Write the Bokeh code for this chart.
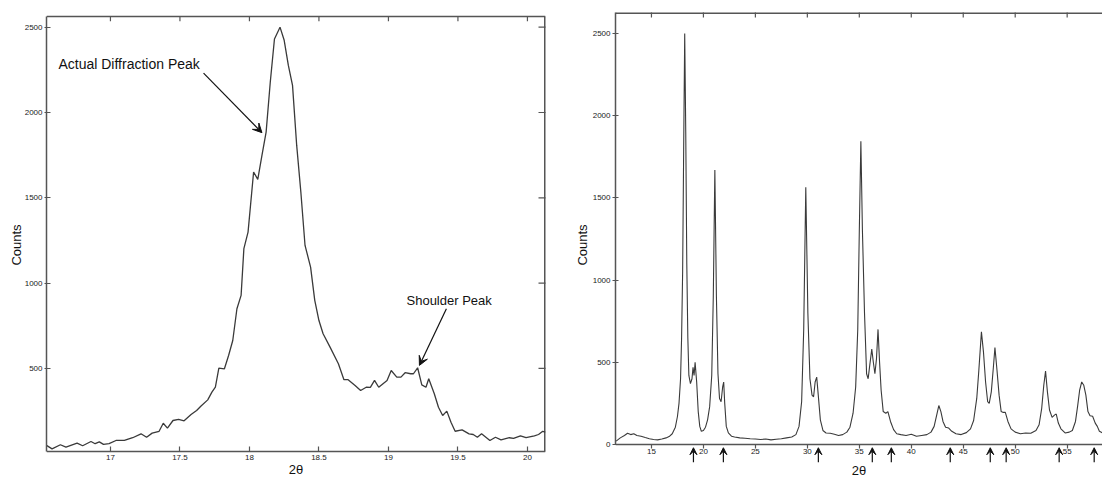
import math
from bokeh.plotting import figure
from bokeh.models import (Range1d, Arrow, VeeHead, Label, FixedTicker,
                          PrintfTickFormatter, ColumnDataSource)
from bokeh.layouts import row
from bokeh.embed import file_html
from bokeh.resources import INLINE

# ---------------- data: left panel (zoom on the 18.2 deg peak) ----------------
left_two_theta = [16.54, 16.58, 16.64, 16.68, 16.76, 16.80, 16.86, 16.89, 16.92, 16.95, 16.99,
                  17.04, 17.10, 17.16, 17.22, 17.26, 17.30, 17.35, 17.38, 17.41, 17.45, 17.49,
                  17.53, 17.58, 17.62, 17.65, 17.70, 17.73, 17.755, 17.78, 17.82, 17.85, 17.88,
                  17.91, 17.94, 17.96, 17.99, 18.03, 18.06, 18.09, 18.12, 18.15, 18.18, 18.22,
                  18.25, 18.28, 18.31, 18.34, 18.37, 18.40, 18.44, 18.47, 18.50, 18.53, 18.58,
                  18.64, 18.68, 18.71, 18.76, 18.80, 18.84, 18.87, 18.90, 18.93, 18.99, 19.02,
                  19.06, 19.09, 19.12, 19.16, 19.18, 19.21, 19.24, 19.27, 19.29, 19.33, 19.36,
                  19.39, 19.42, 19.45, 19.48, 19.53, 19.58, 19.61, 19.64, 19.67, 19.73, 19.77,
                  19.81, 19.87, 19.90, 19.95, 19.99, 20.05, 20.08, 20.11, 20.13]
left_counts = [49, 29, 53, 39, 62, 47, 72, 59, 70, 55, 59,
               78, 78, 94, 117, 97, 121, 132, 179, 150, 195, 201,
               193, 230, 254, 279, 316, 361, 390, 502, 498, 576, 664,
               850, 928, 1202, 1299, 1651, 1608, 1749, 1885, 2179, 2431, 2500,
               2423, 2276, 2159, 1807, 1533, 1221, 1094, 899, 781, 703, 625,
               528, 434, 434, 400, 371, 390, 389, 430, 390, 430, 488,
               449, 449, 475, 469, 469, 504, 404, 390, 440, 352, 273,
               224, 250, 185, 132, 140, 117, 113, 97, 117, 78, 97,
               82, 94, 90, 105, 94, 105, 113, 132, 127]

left_notes = ["Actual Diffraction Peak", "Shoulder Peak"]
left_note_x = [16.626, 19.13]
left_note_y = [2285, 899]
left_arrow_x0 = [17.67, 19.417]
left_arrow_y0 = [2231, 850]
left_arrow_x1 = [18.09, 19.223]
left_arrow_y1 = [1882, 518]

left_x_ticks = [17, 17.5, 18, 18.5, 19, 19.5, 20]
left_y_ticks = [500, 1000, 1500, 2000, 2500]

# ---------------- data: right panel (full pattern) ----------------
right_two_theta = [11.6, 12.0, 12.4, 12.7, 13.0, 13.3, 13.6, 14.0, 14.4, 14.8, 15.2, 15.6, 16.0,
                   16.4, 16.7, 17.0, 17.3, 17.5, 17.65, 17.8, 17.9, 18.0, 18.1, 18.2, 18.3, 18.4,
                   18.5, 18.6, 18.75, 18.9, 19.0, 19.1, 19.2, 19.35, 19.5, 19.65, 19.8, 20.0,
                   20.2, 20.4, 20.6, 20.8, 20.95, 21.1, 21.25, 21.4, 21.55, 21.7, 21.85, 21.95,
                   22.05, 22.2, 22.4, 22.7, 23.0, 23.5, 24.0, 24.5, 25.0, 25.5, 26.0, 26.5,
                   27.0, 27.5, 28.0, 28.5, 28.9, 29.2, 29.45, 29.65, 29.85, 30.05, 30.25, 30.45,
                   30.6, 30.75, 30.9, 31.05, 31.25, 31.5, 31.8, 32.2, 32.6, 33.0, 33.4, 33.8,
                   34.1, 34.4, 34.65, 34.85, 35.0, 35.15, 35.3, 35.5, 35.7, 35.85, 36.0, 36.2,
                   36.35, 36.5, 36.65, 36.8, 36.95, 37.1, 37.3, 37.55, 37.75, 38.0, 38.3, 38.6,
                   39.0, 39.5, 40.0, 40.5, 41.0, 41.5, 41.9, 42.2, 42.45, 42.65, 42.85, 43.05,
                   43.3, 43.6, 43.9, 44.3, 44.8, 45.3, 45.7, 46.0, 46.3, 46.5, 46.75, 46.95,
                   47.15, 47.35, 47.5, 47.7, 47.9, 48.05, 48.25, 48.45, 48.65, 48.85, 49.05,
                   49.3, 49.6, 50.0, 50.5, 51.0, 51.5, 52.0, 52.3, 52.55, 52.75, 52.92, 53.1,
                   53.3, 53.55, 53.8, 53.95, 54.15, 54.4, 54.8, 55.2, 55.5, 55.8, 56.0, 56.2,
                   56.4, 56.6, 56.8, 57.0, 57.2, 57.45, 57.7, 57.9, 58.1, 58.4]
right_counts = [20, 40, 55, 68, 60, 65, 55, 50, 42, 35, 30, 28, 33,
                40, 48, 65, 105, 170, 250, 400, 650, 1050, 1800, 2500, 1900, 1100,
                650, 420, 370, 400, 470, 420, 500, 380, 200, 110, 80, 85,
                105, 150, 230, 420, 900, 1670, 900, 430, 280, 260, 350, 380,
                250, 110, 70, 50, 45, 40, 38, 35, 33, 30, 33, 28,
                32, 35, 40, 45, 60, 110, 260, 700, 1565, 800, 400, 300,
                290, 380, 410, 300, 150, 85, 70, 68, 62, 55, 60, 75,
                105, 190, 350, 700, 1300, 1845, 1300, 800, 430, 400, 480, 580,
                500, 430, 520, 700, 500, 330, 200, 190, 200, 140, 90, 65,
                60, 55, 62, 50, 55, 60, 75, 110, 180, 237, 200, 140,
                105, 100, 80, 65, 60, 72, 95, 146, 280, 450, 685, 560,
                380, 260, 250, 320, 470, 590, 450, 300, 200, 195, 195,
                140, 95, 75, 65, 70, 68, 85, 120, 220, 360, 446, 320,
                210, 165, 180, 185, 130, 95, 70, 75, 85, 140, 230, 330,
                380, 360, 300, 200, 175, 172, 130, 110, 80, 70]

marker_two_theta = [19.04, 21.92, 31.06, 36.25, 38.08, 43.75, 47.6, 49.13, 54.23, 57.6]

right_x_ticks = [15, 20, 25, 30, 35, 40, 45, 50, 55]
right_y_ticks = [0, 500, 1000, 1500, 2000, 2500]

FONT = "Liberation Sans"
AXC = "#555555"
LINEC = "#3a3a3a"


def style_axis(ax, tick_in, tick_out, standoff=2):
    ax.axis_line_color = AXC
    ax.axis_line_width = 1.5
    ax.major_tick_line_color = AXC
    ax.major_tick_line_width = 1.2
    ax.major_tick_in = tick_in
    ax.major_tick_out = tick_out
    ax.minor_tick_line_color = None
    ax.major_label_text_font = FONT
    ax.major_label_text_font_size = "8px"
    ax.major_label_text_color = "#222222"
    ax.major_label_standoff = standoff
    ax.axis_label_text_font = FONT
    ax.axis_label_text_font_size = "13px"
    ax.axis_label_text_font_style = "normal"
    ax.axis_label_text_color = "#111111"


# ---------------- left figure ----------------
# the frame runs to the bottom of the page; the x axis sits at the data floor
LEFT_FLOOR, LEFT_TOP = 13, 2563
x1r = Range1d(16.54, 20.13)
y1r = Range1d(-139, 2586)
left_tick_len = 29  # ~5 px in data units
p1 = figure(width=560, height=477, x_range=x1r, y_range=y1r,
            output_backend="svg", toolbar_location=None,
            min_border_left=46, min_border_right=15, min_border_top=12, min_border_bottom=0)
p1.grid.visible = False
p1.outline_line_color = None
p1.background_fill_color = "white"
p1.border_fill_color = "white"

p1.xaxis.ticker = FixedTicker(ticks=left_x_ticks)
p1.xaxis.formatter = PrintfTickFormatter(format="%g")
p1.xaxis.axis_label = "2θ"
p1.xaxis.axis_label_standoff = -1
p1.xaxis.fixed_location = LEFT_FLOOR
style_axis(p1.xaxis[0], 5, 0, standoff=3)

p1.yaxis.ticker = FixedTicker(ticks=left_y_ticks)
p1.yaxis.axis_label = "Counts"
p1.yaxis.axis_label_standoff = -2
p1.yaxis.bounds = (LEFT_FLOOR, LEFT_TOP)
style_axis(p1.yaxis[0], 4, 2, standoff=2)

# top and right frame edges with inward ticks
p1.line([x1r.start, x1r.end], [LEFT_TOP, LEFT_TOP], line_color=AXC, line_width=1.5)
p1.line([x1r.end, x1r.end], [LEFT_FLOOR, LEFT_TOP], line_color=AXC, line_width=3)
p1.segment(x0=left_x_ticks, y0=[LEFT_TOP] * len(left_x_ticks),
           x1=left_x_ticks, y1=[LEFT_TOP - left_tick_len] * len(left_x_ticks),
           line_color=AXC, line_width=1.2)
p1.scatter([x1r.end] * len(left_y_ticks), left_y_ticks, marker="dash", size=14,
           line_color=AXC, line_width=1.2)

p1.line(left_two_theta, left_counts, line_color=LINEC, line_width=1.3)

for txt, tx, ty in zip(left_notes, left_note_x, left_note_y):
    p1.add_layout(Label(x=tx, y=ty, text=txt, text_font=FONT,
                        text_font_size="14px" if txt.startswith("Actual") else "13px",
                        text_baseline="middle", text_align="left", text_color="#111111"))
for xa, ya, xb, yb in zip(left_arrow_x0, left_arrow_y0, left_arrow_x1, left_arrow_y1):
    p1.add_layout(Arrow(x_start=xa, y_start=ya, x_end=xb, y_end=yb, line_color="#111111",
                        line_width=1.2,
                        end=VeeHead(size=9, fill_color="#111111", line_color="#111111")))

# ---------------- right figure ----------------
RIGHT_TOP = 2628
x2r = Range1d(11.54, 58.4)
y2r = Range1d(-201, RIGHT_TOP)
p2 = figure(width=542, height=477, x_range=x2r, y_range=y2r,
            output_backend="svg", toolbar_location=None,
            min_border_left=55, min_border_right=0, min_border_top=12, min_border_bottom=0)
p2.grid.visible = False
p2.outline_line_color = None
p2.background_fill_color = "white"
p2.border_fill_color = "white"

p2.xaxis.ticker = FixedTicker(ticks=right_x_ticks)
p2.xaxis.axis_label = "2θ"
p2.xaxis.axis_label_standoff = 5
p2.xaxis.fixed_location = 0
style_axis(p2.xaxis[0], 0, 4, standoff=1)

p2.yaxis.ticker = FixedTicker(ticks=right_y_ticks)
p2.yaxis.axis_label = "Counts"
p2.yaxis.axis_label_standoff = 0
p2.yaxis.bounds = (0, RIGHT_TOP)
style_axis(p2.yaxis[0], 3, 3, standoff=2)

# top frame edge with inward ticks (half of each mark is clipped by the frame)
p2.line([x2r.start, x2r.end], [RIGHT_TOP, RIGHT_TOP], line_color=AXC, line_width=3)
p2.scatter(right_x_ticks, [RIGHT_TOP] * len(right_x_ticks), marker="dash", size=10,
           angle=math.pi / 2, line_color=AXC, line_width=1.2)

p2.line(right_two_theta, right_counts, line_color=LINEC, line_width=1.1)

marker_src = ColumnDataSource(dict(x0=marker_two_theta, y0=[-108] * len(marker_two_theta),
                                   x1=marker_two_theta, y1=[-20] * len(marker_two_theta)))
p2.add_layout(Arrow(source=marker_src, x_start="x0", y_start="y0", x_end="x1", y_end="y1",
                    line_color="#111111", line_width=1.2,
                    end=VeeHead(size=7, fill_color="#111111", line_color="#111111")))

layout = row(p1, p2)
open("out.html", "w").write(file_html(layout, INLINE))
